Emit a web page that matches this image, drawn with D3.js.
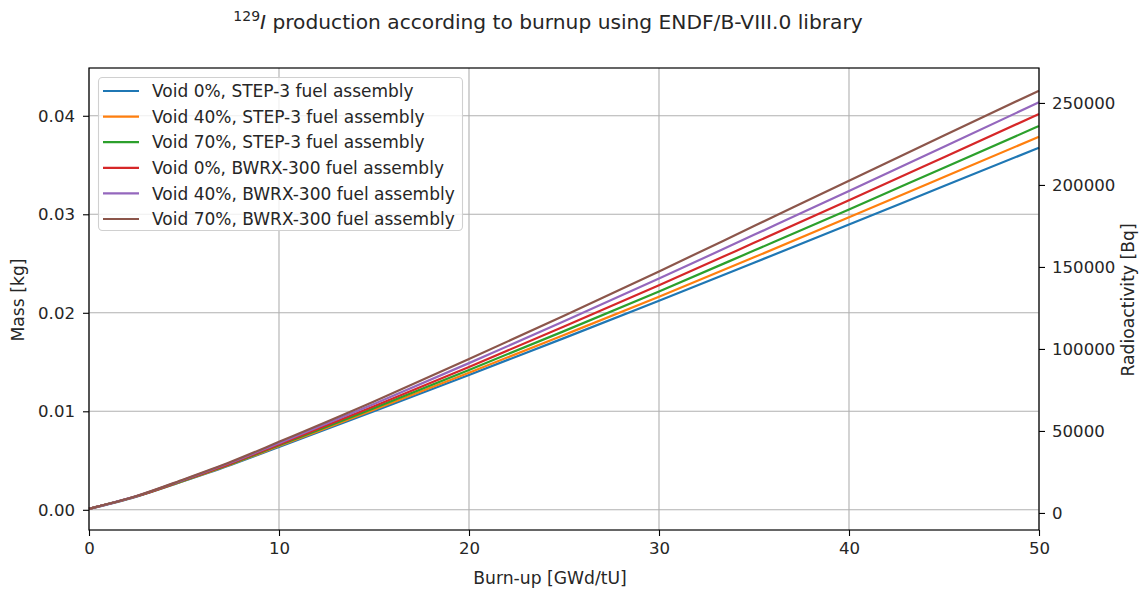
<!DOCTYPE html>
<html><head><meta charset="utf-8">
<script src="https://cdn.jsdelivr.net/npm/d3@7"></script>
<style>body{margin:0;background:#fff;} svg{display:block;font-family:"DejaVu Sans",sans-serif;}</style>
</head><body><svg id="c" width="1145" height="591"></svg>
<script>
const burnup = [0, 2.5, 5, 7.5, 10, 15, 20, 25, 30, 35, 40, 45, 50];
const seriesNames = [
  "Void 0%, STEP-3 fuel assembly",
  "Void 40%, STEP-3 fuel assembly",
  "Void 70%, STEP-3 fuel assembly",
  "Void 0%, BWRX-300 fuel assembly",
  "Void 40%, BWRX-300 fuel assembly",
  "Void 70%, BWRX-300 fuel assembly"
];
const void0Step3   = [0.0001, 0.00134, 0.00293, 0.00458, 0.00638, 0.01001, 0.01369, 0.01743, 0.02122, 0.02508, 0.02896, 0.03287, 0.03676];
const void40Step3  = [0.0001, 0.00136, 0.00296, 0.00463, 0.00647, 0.01015, 0.01392, 0.01775, 0.02163, 0.02563, 0.02969, 0.03378, 0.03788];
const void70Step3  = [0.0001, 0.00137, 0.00299, 0.00468, 0.00656, 0.01032, 0.01420, 0.01814, 0.02217, 0.02632, 0.03049, 0.03473, 0.03896];
const void0Bwrx    = [0.0001, 0.00137, 0.00302, 0.00474, 0.00664, 0.01051, 0.01450, 0.01860, 0.02280, 0.02710, 0.03143, 0.03580, 0.04018];
const void40Bwrx   = [0.0001, 0.00139, 0.00306, 0.00482, 0.00677, 0.01075, 0.01489, 0.01913, 0.02347, 0.02791, 0.03236, 0.03686, 0.04137];
const void70Bwrx   = [0.0001, 0.00140, 0.00310, 0.00490, 0.00690, 0.01100, 0.01530, 0.01970, 0.02420, 0.02880, 0.03340, 0.03800, 0.04255];
const seriesValues = [void0Step3, void40Step3, void70Step3, void0Bwrx, void40Bwrx, void70Bwrx];
const colors = ["#1f77b4", "#ff7f0e", "#2ca02c", "#d62728", "#9467bd", "#8c564b"];
const xTicks = [0, 10, 20, 30, 40, 50];
const yTicks = [0, 0.01, 0.02, 0.03, 0.04];
const yTickLabels = ["0.00", "0.01", "0.02", "0.03", "0.04"];
const y2Ticks = [0, 50000, 100000, 150000, 200000, 250000];
const y2TickLabels = ["0", "50000", "100000", "150000", "200000", "250000"];

const svg = d3.select("#c");
const L = 89, R = 1039, T = 68, B = 530;
const FS = 16.6;
const LFS = 17.2;
const x = d3.scaleLinear().domain([0, 50]).range([L, R]);
const y = d3.scaleLinear().domain([-0.00205, 0.04485]).range([B, T]);
const y2 = d3.scaleLinear().domain([-10400, 271300]).range([B, T]);

// grid
const g = svg.append("g");
g.selectAll(".gx").data(xTicks).enter().append("line")
  .attr("x1", d => x(d)).attr("x2", d => x(d)).attr("y1", T).attr("y2", B)
  .attr("stroke", "#b0b0b0").attr("stroke-width", 1.1);
g.selectAll(".gy").data(yTicks).enter().append("line")
  .attr("x1", L).attr("x2", R).attr("y1", d => y(d)).attr("y2", d => y(d))
  .attr("stroke", "#b0b0b0").attr("stroke-width", 1.1);

// lines
const line = d3.line().x((d, i) => x(burnup[i])).y(d => y(d)).curve(d3.curveMonotoneX);
seriesValues.forEach((vals, k) => {
  svg.append("path").attr("d", line(vals)).attr("fill", "none")
    .attr("stroke", colors[k]).attr("stroke-width", 2.2);
});

// axes
function styleAxis(sel) {
  sel.selectAll(".domain").remove();
  sel.selectAll(".tick line").attr("stroke", "#000").attr("stroke-width", 1.1);
  sel.selectAll(".tick text").attr("fill", "#262626").style("font-size", FS + "px").style("font-family", "DejaVu Sans");
}
const ax = svg.append("g").attr("transform", `translate(0,${B})`)
  .call(d3.axisBottom(x).tickValues(xTicks).tickFormat(d3.format("d")).tickSize(6).tickPadding(6));
styleAxis(ax);
const ay = svg.append("g").attr("transform", `translate(${L},0)`)
  .call(d3.axisLeft(y).tickValues(yTicks).tickFormat((d, i) => yTickLabels[i]).tickSize(6).tickPadding(8));
styleAxis(ay);
const ay2 = svg.append("g").attr("transform", `translate(${R},0)`)
  .call(d3.axisRight(y2).tickValues(y2Ticks).tickFormat((d, i) => y2TickLabels[i]).tickSize(6).tickPadding(7));
styleAxis(ay2);

// frame
svg.append("rect").attr("x", L).attr("y", T).attr("width", R - L).attr("height", B - T)
  .attr("fill", "none").attr("stroke", "#000").attr("stroke-width", 1.2);

// labels
svg.append("text").attr("x", 550).attr("y", 584).attr("text-anchor", "middle")
  .style("font-size", LFS + "px").attr("fill", "#262626").text("Burn-up [GWd/tU]");
svg.append("text").attr("transform", "translate(24,300) rotate(-90)").attr("text-anchor", "middle")
  .style("font-size", LFS + "px").attr("fill", "#262626").text("Mass [kg]");
svg.append("text").attr("transform", "translate(1134,300) rotate(-90)").attr("text-anchor", "middle")
  .style("font-size", LFS + "px").attr("fill", "#262626").text("Radioactivity [Bq]");

// title
const title = svg.append("text").attr("x", 548).attr("y", 29).attr("text-anchor", "middle")
  .style("font-size", "20.2px").attr("fill", "#262626");
title.append("tspan").style("font-size", "14px").attr("dy", -8).text("129");
title.append("tspan").attr("dy", 8).style("font-style", "italic").text("I");
title.append("tspan").text(" production according to burnup using ENDF/B-VIII.0 library");

// legend
const lg = svg.append("g");
lg.append("rect").attr("x", 98.5).attr("y", 77.5).attr("width", 364).attr("height", 153)
  .attr("rx", 4).attr("fill", "#fff").attr("fill-opacity", 0.8)
  .attr("stroke", "#d0d0d0").attr("stroke-width", 1.1);
seriesNames.forEach((name, k) => {
  const cy = 91 + k * 25.6;
  lg.append("line").attr("x1", 103).attr("x2", 139).attr("y1", cy).attr("y2", cy)
    .attr("stroke", colors[k]).attr("stroke-width", 2.2);
  lg.append("text").attr("x", 152).attr("y", cy).attr("dy", "0.36em")
    .style("font-size", "17px").attr("fill", "#262626").text(name);
});
</script></body></html>
